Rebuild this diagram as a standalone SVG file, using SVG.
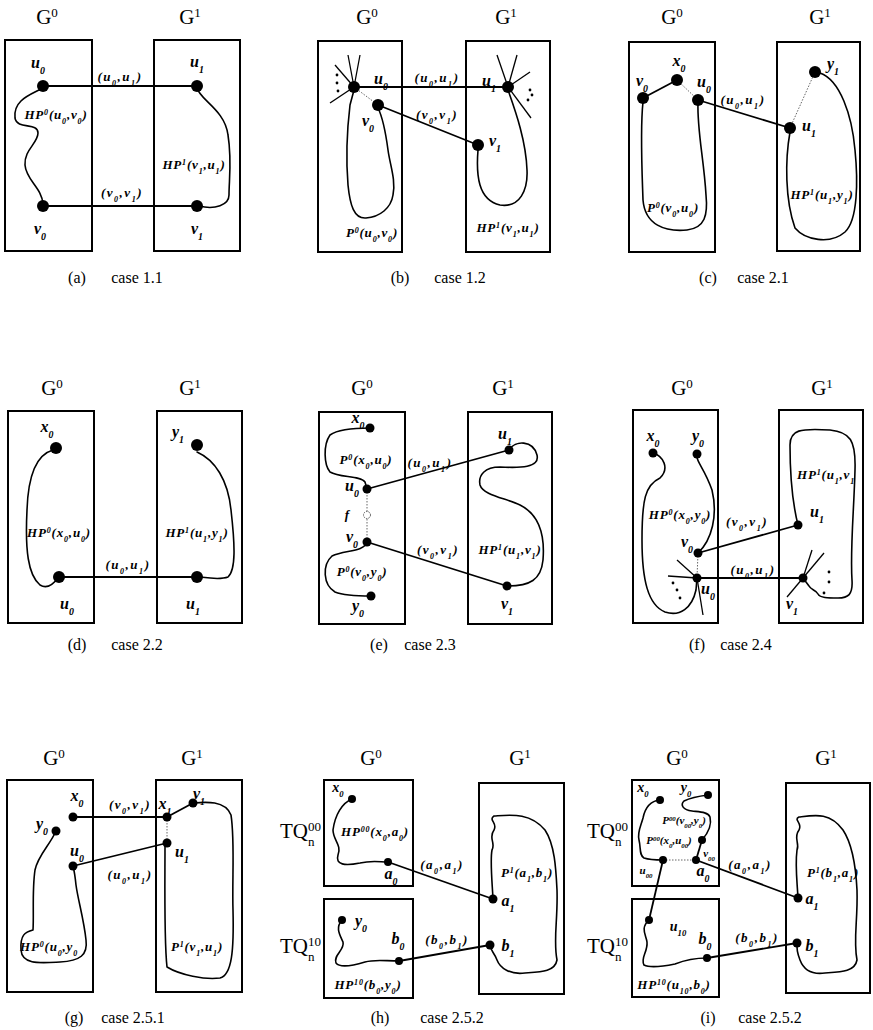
<svg xmlns="http://www.w3.org/2000/svg" width="873" height="1030" viewBox="0 0 873 1030">
<style>
text{font-family:"Liberation Serif",serif;fill:#000}
.G{font-size:21px;text-anchor:middle}
.nl{font-size:16px;font-style:italic;font-weight:bold;text-anchor:middle}
.ns{font-size:14px;font-style:italic;font-weight:bold;text-anchor:middle}
.el{font-size:13px;font-style:italic;font-weight:bold;letter-spacing:1.5px;text-anchor:middle}
.pl{font-size:13px;font-style:italic;font-weight:bold;letter-spacing:0.8px;text-anchor:middle}
.sl{font-size:11px;font-style:italic;font-weight:bold;text-anchor:middle}
.cap{font-size:16px;text-anchor:middle}
.tq{font-size:21px}
.b{font-size:62%;baseline-shift:sub}
.t{font-size:62%;baseline-shift:super}
.box{fill:none;stroke:#000;stroke-width:2}
.e{fill:none;stroke:#000;stroke-width:1.8}
.p{fill:none;stroke:#000;stroke-width:1.6;stroke-linejoin:round;stroke-linecap:round}
.d{fill:none;stroke:#666;stroke-width:1;stroke-dasharray:1.5 1.5}
.s{stroke:#000;stroke-width:1.3}
.n{fill:#000}
</style>

<!-- Panel (a) -->
<g id="panel-a">
<text class="G" x="47" y="24">G<tspan class="t">0</tspan></text>
<text class="G" x="190" y="24">G<tspan class="t">1</tspan></text>
<rect class="box" x="5" y="40" width="87" height="211"/>
<rect class="box" x="154" y="40" width="86" height="211"/>
<g id="a-edges">
<line class="e" x1="43" y1="86" x2="197" y2="86"/>
<line class="e" x1="43" y1="206" x2="197" y2="206"/>
<path class="p" d="M43,88 C30,95 13,100 15,118 C17,130 38,122 38,133 C38,143 24,150 25,165 C26,180 42,188 43,204"/>
<path class="p" d="M197,88 C200,100 225,110 228,135 C232,160 229,180 229,195 C229,205 215,210 199,206"/>
</g>
<g id="a-u0"><circle class="n" cx="43" cy="86" r="6"/><text class="nl" x="38" y="68">u<tspan class="b">0</tspan></text></g>
<g id="a-u1"><circle class="n" cx="197" cy="86" r="6"/><text class="nl" x="197" y="67">u<tspan class="b">1</tspan></text></g>
<g id="a-v0"><circle class="n" cx="43" cy="206" r="6"/><text class="nl" x="40" y="234">v<tspan class="b">0</tspan></text></g>
<g id="a-v1"><circle class="n" cx="197" cy="206" r="6"/><text class="nl" x="197" y="234">v<tspan class="b">1</tspan></text></g>
<text class="el" x="120" y="81">(u<tspan class="b">0</tspan>,u<tspan class="b">1</tspan>)</text>
<text class="el" x="122" y="197">(v<tspan class="b">0</tspan>,v<tspan class="b">1</tspan>)</text>
<text class="pl" x="56" y="119">HP<tspan class="t">0</tspan>(u<tspan class="b">0</tspan>,v<tspan class="b">0</tspan>)</text>
<text class="pl" x="194" y="169">HP<tspan class="t">1</tspan>(v<tspan class="b">1</tspan>,u<tspan class="b">1</tspan>)</text>
<text class="cap" x="77" y="283">(a)</text><text class="cap" x="137" y="283">case 1.1</text>
</g>

<!-- Panel (b) -->
<g id="panel-b">
<text class="G" x="367" y="24">G<tspan class="t">0</tspan></text>
<text class="G" x="506" y="24">G<tspan class="t">1</tspan></text>
<rect class="box" x="318" y="41" width="84" height="211"/>
<rect class="box" x="466" y="41" width="84" height="211"/>
<g id="b-edges">
<line class="e" x1="354" y1="87" x2="508" y2="87"/>
<line class="e" x1="378" y1="105" x2="478" y2="145"/>
<line class="d" x1="354" y1="87" x2="378" y2="105"/>
<line class="s" x1="354" y1="87" x2="335" y2="65"/>
<line class="s" x1="354" y1="87" x2="348" y2="55"/>
<line class="s" x1="354" y1="87" x2="360" y2="55"/>
<line class="s" x1="354" y1="87" x2="330" y2="103"/>
<line class="s" x1="508" y1="87" x2="497" y2="55"/>
<line class="s" x1="508" y1="87" x2="517" y2="55"/>
<line class="s" x1="508" y1="87" x2="530" y2="72"/>
<line class="s" x1="508" y1="87" x2="531" y2="118"/>
<path class="p" d="M378,108 C383,118 386,135 388,150 C390,165 396,180 393,195 C391,208 380,217 366,218 C354,219 350,205 348,185 C346,160 347,130 350,105 L354,90"/>
<path class="p" d="M478,150 C476,175 478,200 500,205 C520,208 528,190 527,170 C526,140 515,110 508,90"/>
</g>
<circle class="n" cx="337" cy="75" r="1.4"/><circle class="n" cx="337" cy="83" r="1.4"/><circle class="n" cx="338" cy="91" r="1.4"/>
<circle class="n" cx="530" cy="90" r="1.4"/><circle class="n" cx="532" cy="95" r="1.4"/><circle class="n" cx="528" cy="100" r="1.4"/>
<g id="b-u0"><circle class="n" cx="354" cy="87" r="6"/><text class="nl" x="381" y="84">u<tspan class="b">0</tspan></text></g>
<g id="b-u1"><circle class="n" cx="508" cy="87" r="6"/><text class="nl" x="489" y="86">u<tspan class="b">1</tspan></text></g>
<g id="b-v0"><circle class="n" cx="378" cy="105" r="6"/><text class="nl" x="368" y="126">v<tspan class="b">0</tspan></text></g>
<g id="b-v1"><circle class="n" cx="478" cy="145" r="6"/><text class="nl" x="495" y="146">v<tspan class="b">1</tspan></text></g>
<text class="el" x="437" y="82">(u<tspan class="b">0</tspan>,u<tspan class="b">1</tspan>)</text>
<text class="el" x="437" y="119">(v<tspan class="b">0</tspan>,v<tspan class="b">1</tspan>)</text>
<text class="pl" x="372" y="237">P<tspan class="t">0</tspan>(u<tspan class="b">0</tspan>,v<tspan class="b">0</tspan>)</text>
<text class="pl" x="508" y="232">HP<tspan class="t">1</tspan>(v<tspan class="b">1</tspan>,u<tspan class="b">1</tspan>)</text>
<text class="cap" x="400" y="283">(b)</text><text class="cap" x="460" y="283">case 1.2</text>
</g>

<!-- Panel (c) -->
<g id="panel-c">
<text class="G" x="672" y="24">G<tspan class="t">0</tspan></text>
<text class="G" x="820" y="24">G<tspan class="t">1</tspan></text>
<rect class="box" x="629" y="42" width="86" height="210"/>
<rect class="box" x="777" y="42" width="83" height="209"/>
<g id="c-edges">
<line class="e" x1="643" y1="98" x2="677" y2="80"/>
<line class="d" x1="677" y1="80" x2="698" y2="100"/>
<line class="e" x1="698" y1="100" x2="790" y2="128"/>
<line class="d" x1="790" y1="128" x2="815" y2="72"/>
<path class="p" d="M643,102 C640,130 642,170 643,200 C645,225 665,232 687,230 C705,228 708,215 706,195 C704,160 697,130 698,103"/>
<path class="p" d="M790,132 C785,160 785,200 795,228 C805,240 830,245 845,232 C858,220 858,180 855,150 C852,115 840,80 820,73"/>
</g>
<g id="c-x0"><circle class="n" cx="677" cy="80" r="6"/><text class="nl" x="679" y="66">x<tspan class="b">0</tspan></text></g>
<g id="c-v0"><circle class="n" cx="643" cy="98" r="6"/><text class="nl" x="642" y="86">v<tspan class="b">0</tspan></text></g>
<g id="c-u0"><circle class="n" cx="698" cy="100" r="6"/><text class="nl" x="704" y="87">u<tspan class="b">0</tspan></text></g>
<g id="c-u1"><circle class="n" cx="790" cy="128" r="6"/><text class="nl" x="809" y="131">u<tspan class="b">1</tspan></text></g>
<g id="c-y1"><circle class="n" cx="815" cy="72" r="6"/><text class="nl" x="833" y="69">y<tspan class="b">1</tspan></text></g>
<text class="el" x="743" y="104">(u<tspan class="b">0</tspan>,u<tspan class="b">1</tspan>)</text>
<text class="pl" x="673" y="212">P<tspan class="t">0</tspan>(v<tspan class="b">0</tspan>,u<tspan class="b">0</tspan>)</text>
<text class="pl" x="822" y="199">HP<tspan class="t">1</tspan>(u<tspan class="b">1</tspan>,y<tspan class="b">1</tspan>)</text>
<text class="cap" x="708" y="283">(c)</text><text class="cap" x="763" y="283">case 2.1</text>
</g>

<!-- Panel (d) -->
<g id="panel-d">
<text class="G" x="52" y="395">G<tspan class="t">0</tspan></text>
<text class="G" x="190" y="395">G<tspan class="t">1</tspan></text>
<rect class="box" x="8" y="411" width="86" height="212"/>
<rect class="box" x="157" y="411" width="85" height="212"/>
<g id="d-edges">
<line class="e" x1="59" y1="577" x2="197" y2="577"/>
<path class="p" d="M53,450 C35,455 28,480 27,510 C25,550 28,575 40,585 C48,590 55,582 58,578"/>
<path class="p" d="M197,452 C215,460 228,480 231,510 C235,545 236,570 228,577 C220,580 208,578 200,577"/>
</g>
<g id="d-x0"><circle class="n" cx="56" cy="448" r="6"/><text class="nl" x="47" y="432">x<tspan class="b">0</tspan></text></g>
<g id="d-y1"><circle class="n" cx="197" cy="445" r="6"/><text class="nl" x="178" y="437">y<tspan class="b">1</tspan></text></g>
<g id="d-u0"><circle class="n" cx="59" cy="577" r="6"/><text class="nl" x="67" y="609">u<tspan class="b">0</tspan></text></g>
<g id="d-u1"><circle class="n" cx="197" cy="577" r="6"/><text class="nl" x="193" y="609">u<tspan class="b">1</tspan></text></g>
<text class="el" x="128" y="569">(u<tspan class="b">0</tspan>,u<tspan class="b">1</tspan>)</text>
<text class="pl" x="59" y="537">HP<tspan class="t">0</tspan>(x<tspan class="b">0</tspan>,u<tspan class="b">0</tspan>)</text>
<text class="pl" x="197" y="537">HP<tspan class="t">1</tspan>(u<tspan class="b">1</tspan>,y<tspan class="b">1</tspan>)</text>
<text class="cap" x="77" y="650">(d)</text><text class="cap" x="137" y="650">case 2.2</text>
</g>

<!-- Panel (e) -->
<g id="panel-e">
<text class="G" x="362" y="395">G<tspan class="t">0</tspan></text>
<text class="G" x="503" y="395">G<tspan class="t">1</tspan></text>
<rect class="box" x="319" y="412" width="86" height="212"/>
<rect class="box" x="468" y="412" width="84" height="212"/>
<g id="e-edges">
<line class="e" x1="367" y1="489" x2="509" y2="450"/>
<line class="e" x1="367" y1="542" x2="507" y2="586"/>
<line class="d" x1="367" y1="489" x2="367" y2="542"/>
<circle cx="367" cy="515" r="3.5" fill="#fff" stroke="#555" stroke-width="1" stroke-dasharray="1.5 1"/>
<path class="p" d="M370,428 C360,428 340,428 330,435 C323,445 324,465 330,472 C340,478 360,475 365,482 L367,489"/>
<path class="p" d="M367,542 C364,552 345,550 332,556 C322,565 323,585 335,592 C345,596 360,596 371,596"/>
<path class="p" d="M509,450 C515,440 533,440 537,455 C540,468 520,468 500,467 C485,467 478,475 480,485 C483,495 505,498 520,505 C540,515 545,535 543,560 C541,580 530,586 507,586"/>
</g>
<g id="e-x0"><circle class="n" cx="370" cy="428" r="4.5"/><text class="nl" x="358" y="423">x<tspan class="b">0</tspan></text></g>
<g id="e-u0"><circle class="n" cx="367" cy="489" r="4.5"/><text class="nl" x="352" y="491">u<tspan class="b">0</tspan></text></g>
<g id="e-v0"><circle class="n" cx="367" cy="542" r="4.5"/><text class="nl" x="352" y="542">v<tspan class="b">0</tspan></text></g>
<g id="e-y0"><circle class="n" cx="371" cy="596" r="4.5"/><text class="nl" x="358" y="611">y<tspan class="b">0</tspan></text></g>
<g id="e-u1"><circle class="n" cx="509" cy="450" r="4.5"/><text class="nl" x="505" y="439">u<tspan class="b">1</tspan></text></g>
<g id="e-v1"><circle class="n" cx="507" cy="586" r="4.5"/><text class="nl" x="507" y="609">v<tspan class="b">1</tspan></text></g>
<text class="nl" x="347" y="519" style="font-size:13px">f</text>
<text class="el" x="430" y="467">(u<tspan class="b">0</tspan>,u<tspan class="b">1</tspan>)</text>
<text class="el" x="438" y="554">(v<tspan class="b">0</tspan>,v<tspan class="b">1</tspan>)</text>
<text class="pl" x="366" y="464">P<tspan class="t">0</tspan>(x<tspan class="b">0</tspan>,u<tspan class="b">0</tspan>)</text>
<text class="pl" x="362" y="576">P<tspan class="t">0</tspan>(v<tspan class="b">0</tspan>,y<tspan class="b">0</tspan>)</text>
<text class="pl" x="510" y="554">HP<tspan class="t">1</tspan>(u<tspan class="b">1</tspan>,v<tspan class="b">1</tspan>)</text>
<text class="cap" x="379" y="650">(e)</text><text class="cap" x="430" y="650">case 2.3</text>
</g>

<!-- Panel (f) -->
<g id="panel-f">
<text class="G" x="682" y="395">G<tspan class="t">0</tspan></text>
<text class="G" x="822" y="395">G<tspan class="t">1</tspan></text>
<rect class="box" x="633" y="410" width="85" height="213"/>
<rect class="box" x="779" y="410" width="84" height="213"/>
<g id="f-edges">
<line class="e" x1="698" y1="553" x2="798" y2="525"/>
<line class="e" x1="697" y1="578" x2="803" y2="578"/>
<line class="d" x1="698" y1="553" x2="697" y2="578"/>
<line class="s" x1="697" y1="578" x2="677" y2="560"/>
<line class="s" x1="697" y1="578" x2="668" y2="576"/>
<line class="s" x1="697" y1="578" x2="703" y2="615"/>
<line class="s" x1="803" y1="578" x2="812" y2="550"/>
<line class="s" x1="803" y1="578" x2="824" y2="553"/>
<line class="s" x1="803" y1="578" x2="787" y2="597"/>
<path class="p" d="M653,453 C663,456 670,468 660,478 C645,485 642,500 642,540 C642,580 648,605 665,612 C680,617 692,608 696,590 L697,578"/>
<path class="p" d="M698,553 C712,540 718,515 712,490 C705,470 697,462 697,457"/>
<path class="p" d="M798,525 C793,505 790,475 790,445 C790,430 800,428 830,430 C850,432 856,440 855,470 C854,510 850,550 852,580 C853,595 848,598 838,598 C828,598 820,598 818,594 C816,590 811,590 809,586 L803,578"/>
</g>
<circle class="n" cx="673" cy="583" r="1.4"/><circle class="n" cx="677" cy="590" r="1.4"/><circle class="n" cx="680" cy="598" r="1.4"/>
<circle class="n" cx="829" cy="572" r="1.4"/><circle class="n" cx="829" cy="582" r="1.4"/><circle class="n" cx="824" cy="593" r="1.4"/>
<g id="f-x0"><circle class="n" cx="653" cy="453" r="4.5"/><text class="nl" x="653" y="441">x<tspan class="b">0</tspan></text></g>
<g id="f-y0"><circle class="n" cx="697" cy="454" r="4.5"/><text class="nl" x="698" y="441">y<tspan class="b">0</tspan></text></g>
<g id="f-v0"><circle class="n" cx="698" cy="553" r="4.5"/><text class="nl" x="687" y="547">v<tspan class="b">0</tspan></text></g>
<g id="f-u0"><circle class="n" cx="697" cy="578" r="4.5"/><text class="nl" x="708" y="594">u<tspan class="b">0</tspan></text></g>
<g id="f-u1"><circle class="n" cx="798" cy="525" r="4.5"/><text class="nl" x="817" y="517">u<tspan class="b">1</tspan></text></g>
<g id="f-v1"><circle class="n" cx="803" cy="578" r="4.5"/><text class="nl" x="792" y="609">v<tspan class="b">1</tspan></text></g>
<text class="el" x="747" y="526">(v<tspan class="b">0</tspan>,v<tspan class="b">1</tspan>)</text>
<text class="el" x="753" y="574">(u<tspan class="b">0</tspan>,u<tspan class="b">1</tspan>)</text>
<text class="pl" x="680" y="519">HP<tspan class="t">0</tspan>(x<tspan class="b">0</tspan>,y<tspan class="b">0</tspan>)</text>
<text class="pl" x="826" y="479">HP<tspan class="t">1</tspan>(u<tspan class="b">1</tspan>,v<tspan class="b">1</tspan></text>
<text class="cap" x="697" y="650">(f)</text><text class="cap" x="746" y="650">case 2.4</text>
</g>

<!-- Panel (g) -->
<g id="panel-g">
<text class="G" x="54" y="765">G<tspan class="t">0</tspan></text>
<text class="G" x="192" y="765">G<tspan class="t">1</tspan></text>
<rect class="box" x="7" y="780" width="86" height="212"/>
<rect class="box" x="156" y="780" width="86" height="212"/>
<g id="g-edges">
<line class="e" x1="73" y1="817" x2="167" y2="817"/>
<line class="e" x1="73" y1="866" x2="167" y2="843"/>
<line class="e" x1="167" y1="817" x2="193" y2="803"/>
<line class="d" x1="167" y1="817" x2="167" y2="843"/>
<path class="p" d="M193,803 C205,802 225,800 231,815 C235,840 232,880 233,910 C234,950 232,975 220,978 C205,980 180,975 167,967 C164,940 165,880 165,847"/>
<path class="p" d="M56,831 C50,845 38,855 35,870 C32,890 34,915 33,930 C25,932 20,935 21,950 C22,965 40,963 60,962 C80,961 88,955 86,940 C84,920 78,900 76,885 C75,875 74,870 73,866"/>
</g>
<g id="g-x0"><circle class="n" cx="73" cy="817" r="4.5"/><text class="nl" x="77" y="801">x<tspan class="b">0</tspan></text></g>
<g id="g-y0"><circle class="n" cx="56" cy="831" r="4.5"/><text class="nl" x="42" y="829">y<tspan class="b">0</tspan></text></g>
<g id="g-u0"><circle class="n" cx="73" cy="866" r="4.5"/><text class="nl" x="77" y="856">u<tspan class="b">0</tspan></text></g>
<g id="g-x1"><circle class="n" cx="167" cy="817" r="4.5"/><text class="nl" x="165" y="809">x<tspan class="b">1</tspan></text></g>
<g id="g-v1"><circle class="n" cx="193" cy="803" r="4.5"/><text class="nl" x="199" y="799">v<tspan class="b">1</tspan></text></g>
<g id="g-u1"><circle class="n" cx="167" cy="843" r="4.5"/><text class="nl" x="182" y="857">u<tspan class="b">1</tspan></text></g>
<text class="el" x="130" y="809">(v<tspan class="b">0</tspan>,v<tspan class="b">1</tspan>)</text>
<text class="el" x="130" y="879">(u<tspan class="b">0</tspan>,u<tspan class="b">1</tspan>)</text>
<text class="pl" x="49" y="951">HP<tspan class="t">0</tspan>(u<tspan class="b">0</tspan>,y<tspan class="b">0</tspan></text>
<text class="pl" x="197" y="951">P<tspan class="t">1</tspan>(v<tspan class="b">1</tspan>,u<tspan class="b">1</tspan>)</text>
<text class="cap" x="74" y="1023">(g)</text><text class="cap" x="133" y="1023">case 2.5.1</text>
</g>

<!-- Panel (h) -->
<g id="panel-h">
<text class="G" x="371" y="765">G<tspan class="t">0</tspan></text>
<text class="G" x="520" y="765">G<tspan class="t">1</tspan></text>
<text class="tq" x="280" y="838">TQ<tspan class="t">00</tspan><tspan class="b" dx="-13">n</tspan></text>
<text class="tq" x="280" y="953">TQ<tspan class="t">10</tspan><tspan class="b" dx="-13">n</tspan></text>
<rect class="box" x="324" y="780" width="89" height="106"/>
<rect class="box" x="324" y="899" width="89" height="99"/>
<rect class="box" x="479" y="783" width="85" height="211"/>
<g id="h-edges">
<line class="e" x1="388" y1="862" x2="493" y2="899"/>
<line class="e" x1="399" y1="961" x2="490" y2="945"/>
<path class="p" d="M352,799 C342,803 335,815 333,830 C333,840 342,845 338,855 C335,865 345,866 360,863 C372,860 380,862 388,862"/>
<path class="p" d="M342,920 C335,928 340,935 343,942 C345,950 333,955 336,963 C340,968 355,965 365,962 C375,959 385,961 399,961"/>
<path class="p" d="M493,899 C492,880 490,860 492,850 C496,843 488,838 494,830 C498,823 488,820 494,816 C510,815 530,812 545,830 C555,845 556,870 557,890 C558,920 553,940 557,960 C555,972 540,972 525,973 C510,975 500,968 497,960 C494,952 490,950 490,945"/>
</g>
<g id="h-x0"><circle class="n" cx="352" cy="799" r="4"/><text class="ns" x="338" y="792">x<tspan class="b">0</tspan></text></g>
<g id="h-a0"><circle class="n" cx="388" cy="862" r="4"/><text class="nl" x="391" y="879">a<tspan class="b">0</tspan></text></g>
<g id="h-y0"><circle class="n" cx="342" cy="920" r="4"/><text class="nl" x="361" y="926">y<tspan class="b">0</tspan></text></g>
<g id="h-b0"><circle class="n" cx="399" cy="961" r="4"/><text class="nl" x="398" y="944">b<tspan class="b">0</tspan></text></g>
<g id="h-a1"><circle class="n" cx="493" cy="899" r="4.5"/><text class="nl" x="508" y="906">a<tspan class="b">1</tspan></text></g>
<g id="h-b1"><circle class="n" cx="490" cy="945" r="4.5"/><text class="nl" x="508" y="951">b<tspan class="b">1</tspan></text></g>
<text class="el" x="442" y="869">(a<tspan class="b">0</tspan>,a<tspan class="b">1</tspan>)</text>
<text class="el" x="447" y="944">(b<tspan class="b">0</tspan>,b<tspan class="b">1</tspan>)</text>
<text class="pl" x="375" y="836">HP<tspan class="t">00</tspan>(x<tspan class="b">0</tspan>,a<tspan class="b">0</tspan>)</text>
<text class="pl" x="527" y="877">P<tspan class="t">1</tspan>(a<tspan class="b">1</tspan>,b<tspan class="b">1</tspan>)</text>
<text class="pl" x="368" y="989">HP<tspan class="t">10</tspan>(b<tspan class="b">0</tspan>,y<tspan class="b">0</tspan>)</text>
<text class="cap" x="380" y="1023">(h)</text><text class="cap" x="452" y="1023">case 2.5.2</text>
</g>

<!-- Panel (i) -->
<g id="panel-i">
<text class="G" x="677" y="765">G<tspan class="t">0</tspan></text>
<text class="G" x="826" y="765">G<tspan class="t">1</tspan></text>
<text class="tq" x="587" y="838">TQ<tspan class="t">00</tspan><tspan class="b" dx="-13">n</tspan></text>
<text class="tq" x="587" y="953">TQ<tspan class="t">10</tspan><tspan class="b" dx="-13">n</tspan></text>
<rect class="box" x="632" y="780" width="87" height="106"/>
<rect class="box" x="632" y="899" width="87" height="98"/>
<rect class="box" x="786" y="783" width="84" height="210"/>
<g id="i-edges">
<line class="e" x1="696" y1="860" x2="798" y2="898"/>
<line class="e" x1="707" y1="958" x2="797" y2="943"/>
<line class="e" x1="663" y1="860" x2="649" y2="920"/>
<line class="e" x1="702" y1="840" x2="696" y2="860"/>
<line class="d" x1="663" y1="860" x2="696" y2="860"/>
<path class="p" d="M660,800 C650,801 645,808 643,818 C641,826 637,832 639,840 C641,848 639,855 644,858 C650,860 656,860 663,860"/>
<path class="p" d="M708,795 C700,796 690,798 684,801 C680,805 683,810 692,811 C700,812 708,812 710,817 C712,825 709,832 702,840"/>
<path class="p" d="M649,920 C640,928 646,935 647,942 C648,952 640,958 644,965 C650,968 665,966 675,964 C690,958 700,958 707,958"/>
<path class="p" d="M798,898 C797,880 795,865 797,850 C800,843 793,838 799,830 C803,823 793,820 799,817 C815,815 830,812 843,830 C853,845 856,870 857,890 C858,920 853,940 857,960 C855,972 840,972 825,973 C810,975 803,968 800,960 C797,952 797,950 797,943"/>
</g>
<g id="i-x0"><circle class="n" cx="660" cy="800" r="4"/><text class="ns" x="643" y="792">x<tspan class="b">0</tspan></text></g>
<g id="i-y0"><circle class="n" cx="708" cy="795" r="4"/><text class="ns" x="686" y="792">y<tspan class="b">0</tspan></text></g>
<g id="i-v00"><circle class="n" cx="702" cy="840" r="4"/><text class="sl" x="709" y="857">v<tspan class="b">00</tspan></text></g>
<g id="i-u00"><circle class="n" cx="663" cy="860" r="4"/><text class="sl" x="646" y="874">u<tspan class="b">00</tspan></text></g>
<g id="i-a0"><circle class="n" cx="696" cy="860" r="4"/><text class="nl" x="703" y="876">a<tspan class="b">0</tspan></text></g>
<g id="i-u10"><circle class="n" cx="649" cy="920" r="4"/><text class="ns" x="678" y="931">u<tspan class="b">10</tspan></text></g>
<g id="i-b0"><circle class="n" cx="707" cy="958" r="4"/><text class="nl" x="705" y="944">b<tspan class="b">0</tspan></text></g>
<g id="i-a1"><circle class="n" cx="798" cy="898" r="4.5"/><text class="nl" x="812" y="904">a<tspan class="b">1</tspan></text></g>
<g id="i-b1"><circle class="n" cx="797" cy="943" r="4.5"/><text class="nl" x="812" y="951">b<tspan class="b">1</tspan></text></g>
<text class="el" x="750" y="869">(a<tspan class="b">0</tspan>,a<tspan class="b">1</tspan>)</text>
<text class="el" x="757" y="942">(b<tspan class="b">0</tspan>,b<tspan class="b">1</tspan>)</text>
<text class="sl" x="684" y="824">P<tspan class="t">00</tspan>(v<tspan class="b">00</tspan>,y<tspan class="b">0</tspan>)</text>
<text class="sl" x="669" y="844">P<tspan class="t">00</tspan>(x<tspan class="b">0</tspan>,u<tspan class="b">00</tspan>)</text>
<text class="pl" x="674" y="989">HP<tspan class="t">10</tspan>(u<tspan class="b">10</tspan>,b<tspan class="b">0</tspan>)</text>
<text class="pl" x="833" y="877">P<tspan class="t">1</tspan>(b<tspan class="b">1</tspan>,a<tspan class="b">1</tspan>)</text>
<text class="cap" x="708" y="1023">(i)</text><text class="cap" x="770" y="1023">case 2.5.2</text>
</g>
</svg>
